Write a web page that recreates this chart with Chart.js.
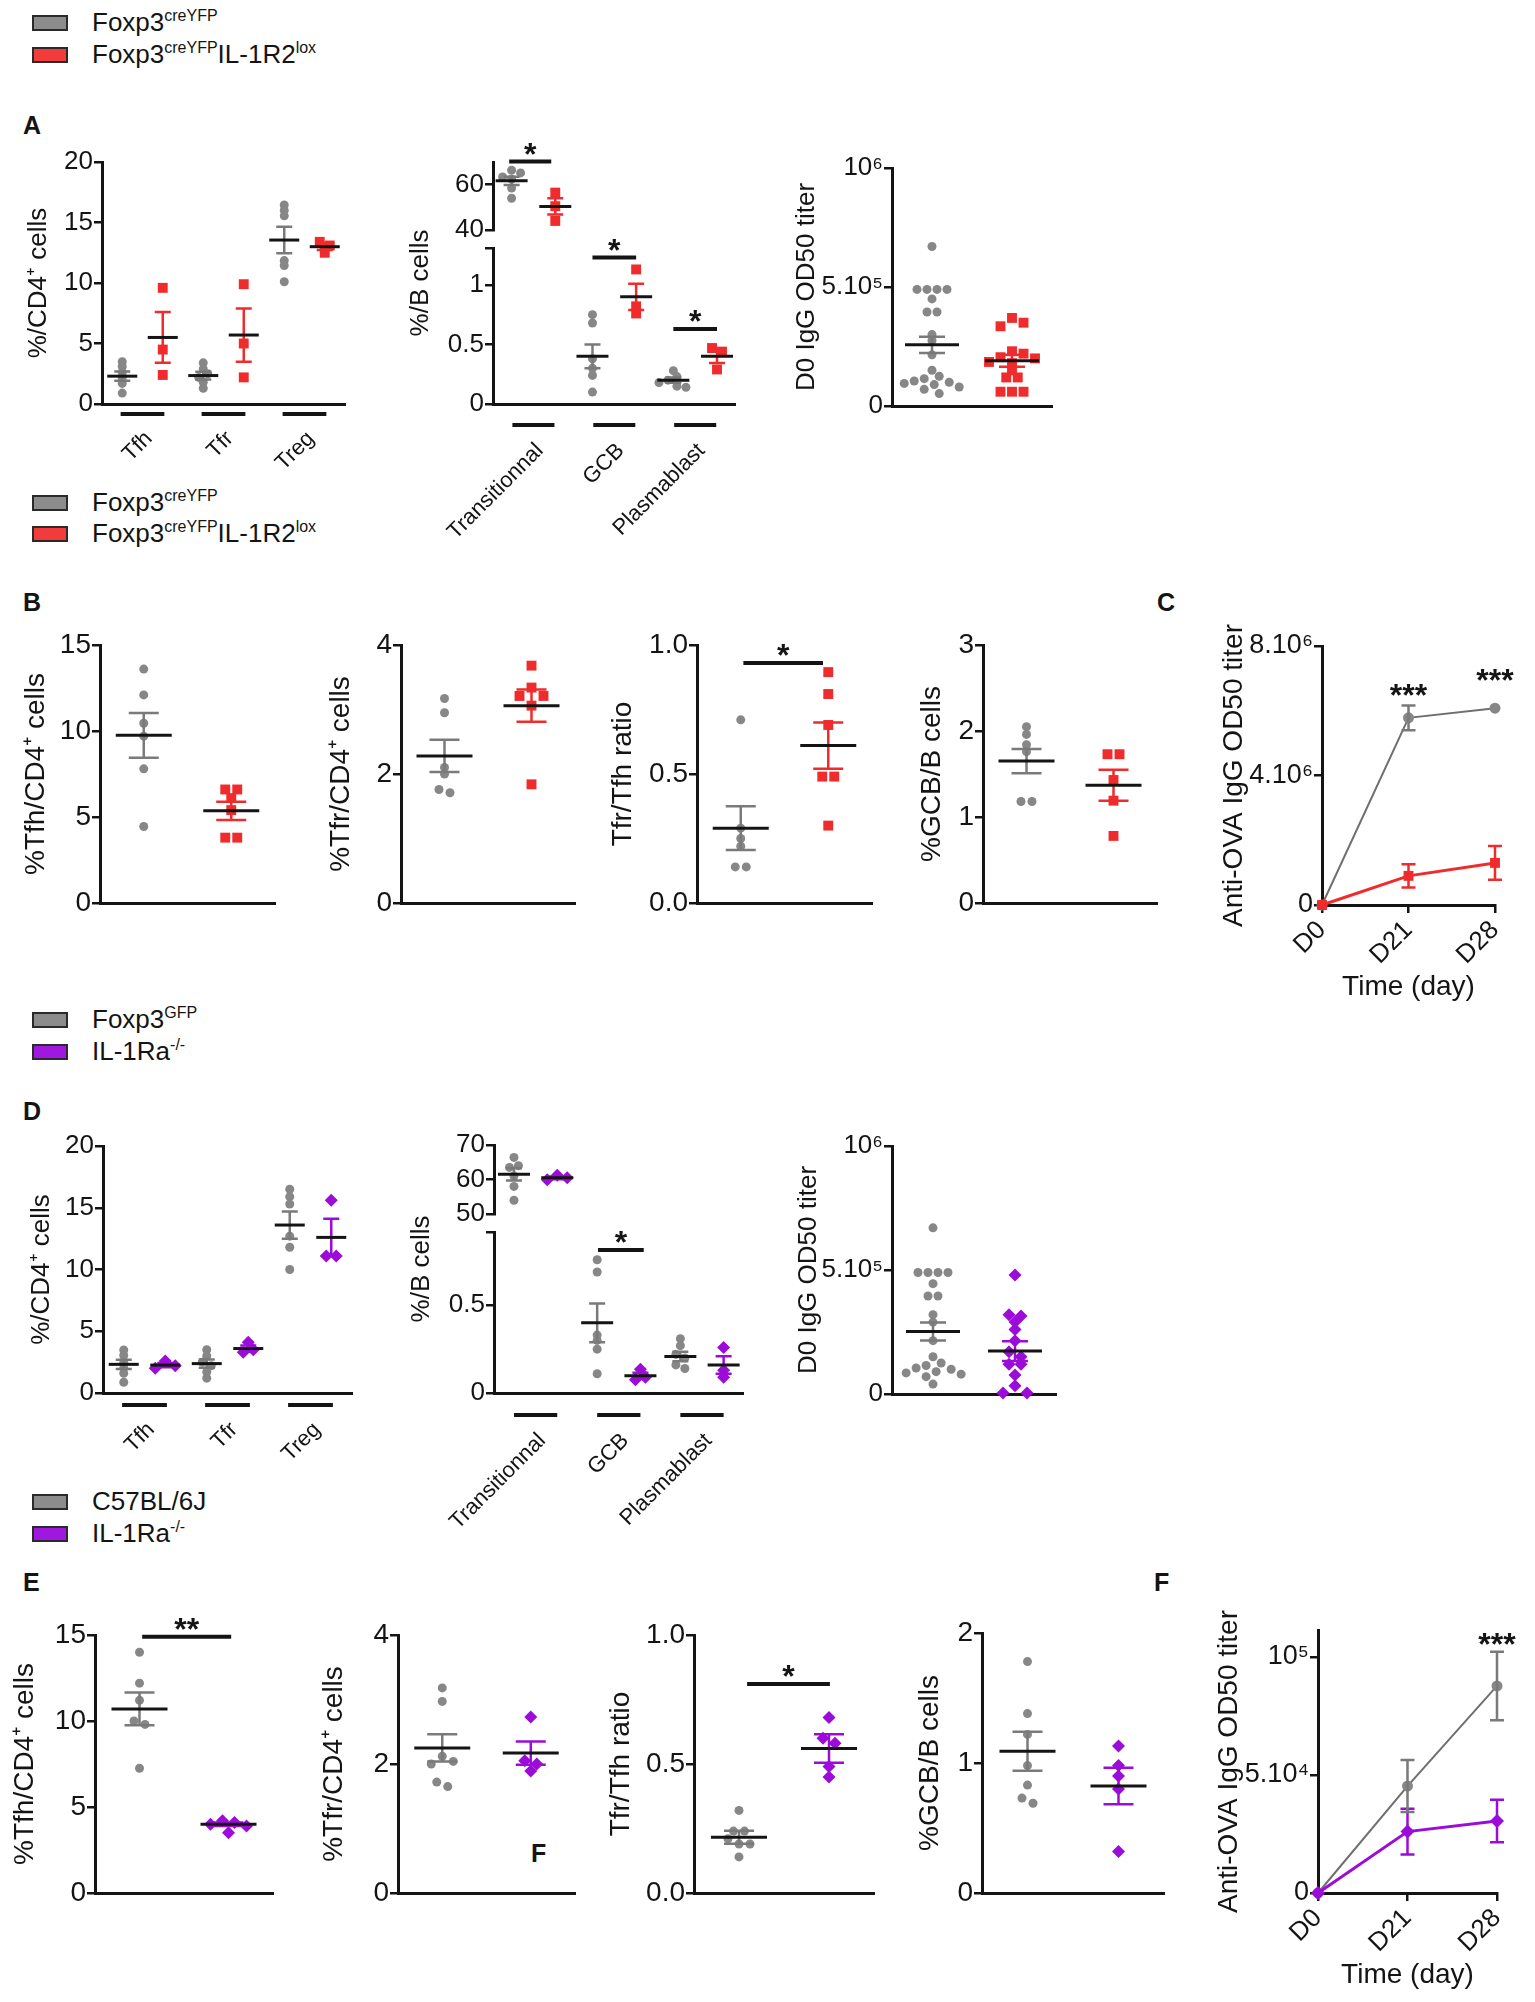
<!DOCTYPE html>
<html>
<head>
<meta charset="utf-8">
<script src="https://cdn.jsdelivr.net/npm/chart.js@4.4.1/dist/chart.umd.min.js"></script>
<style>
body { margin: 0; background: #fff; }
#fig { position: relative; width: 1535px; height: 2002px; font-family: 'Liberation Sans', Arial, Helvetica, sans-serif; color: #141414; overflow: hidden; }
#fig canvas { position: absolute; }
.sw { position: absolute; width: 32px; height: 12px; border: 2px solid #2a2a2a; }
.lt { position: absolute; font-size: 26px; line-height: 30px; white-space: nowrap; }
.lt sup { font-size: 16px; vertical-align: 10px; line-height: 0; }
.pl { position: absolute; font-weight: bold; font-size: 25px; line-height: 28px; }
</style>
</head>
<body>
<div id="fig"></div>
<script>
const FONT = "'Liberation Sans', Arial, Helvetica, sans-serif";
const INK = '#141414';
const GRAY = '#878787';
const GRAY_BAR = '#7a7a7a';
const RED = '#ef2b2b';
const PURPLE = '#9c0cd8';

// ---------- data ----------
// A
const catsA1 = ['Tfh', 'Tfr', 'Treg'];
const a1Gray = [[3.5, 3.1, 2.6, 2.2, 1.7, 0.9], [3.4, 2.9, 2.5, 2.2, 1.8, 1.3], [16.45, 16.0, 15.55, 11.85, 11.45, 10.1]];
const a1GrayMean = [2.3, 2.35, 13.55];
const a1GraySem = [0.38, 0.32, 1.1];
const a1Red = [[9.6, 4.5, 2.4], [9.9, 5.0, 2.2], [13.4, 13.1, 12.5]];
const a1RedMean = [5.5, 5.7, 13.0];
const a1RedSem = [2.1, 2.2, 0.28];

const catsA2 = ['Transitionnal', 'GCB', 'Plasmablast'];
const a2Gray = [[66.4, 65.2, 63.4, 62.5, 58.5, 54.0], [0.75, 0.68, 0.38, 0.30, 0.24, 0.10], [0.28, 0.23, 0.20, 0.18, 0.15, 0.14]];
const a2GrayMean = [61.7, 0.40, 0.20];
const a2GraySem = [1.8, 0.10, 0.022];
const a2Red = [[56.5, 50.5, 44.0], [1.13, 0.82, 0.76], [0.47, 0.44, 0.29]];
const a2RedMean = [50.4, 0.90, 0.40];
const a2RedSem = [3.6, 0.11, 0.055];
const a2SigY = [70.2, 1.23, 0.63];

const a3Gray = [6.7e5, 4.9e5, 4.9e5, 4.9e5, 4.9e5, 4.5e5, 3.95e5, 3.95e5, 3.0e5, 2.75e5, 2.15e5, 1.5e5, 1.25e5, 1.15e5, 1.05e5, 1.0e5, 0.95e5, 0.9e5, 0.8e5, 0.7e5, 0.52e5];
const a3GrayStat = [2.57e5, 0.34e5];
const a3Red = [3.7e5, 3.5e5, 3.35e5, 2.3e5, 2.2e5, 2.05e5, 2.0e5, 1.85e5, 1.8e5, 1.5e5, 1.2e5, 1.2e5, 0.6e5, 0.6e5, 0.6e5];
const a3RedStat = [1.9e5, 0.25e5];

// B
const b1Gray = [13.6, 12.1, 10.45, 9.7, 7.8, 4.45];
const b1GrayStat = [9.75, 1.3];
const b1Red = [6.6, 6.6, 6.1, 5.4, 3.8, 3.8];
const b1RedStat = [5.36, 0.53];
const b2Gray = [3.17, 2.95, 2.1, 2.0, 1.76, 1.71];
const b2GrayStat = [2.28, 0.25];
const b2Red = [3.68, 3.34, 3.21, 3.21, 3.06, 1.84];
const b2RedStat = [3.06, 0.25];
const b3Gray = [0.71, 0.29, 0.25, 0.22, 0.14, 0.14];
const b3GrayStat = [0.29, 0.085];
const b3Red = [0.895, 0.81, 0.69, 0.49, 0.49, 0.30];
const b3RedStat = [0.61, 0.09];
const b4Gray = [2.05, 1.96, 1.84, 1.76, 1.18, 1.18];
const b4GrayStat = [1.65, 0.14];
const b4Red = [1.73, 1.73, 1.43, 1.19, 0.78];
const b4RedStat = [1.37, 0.18];

// C
const days = ['D0', 'D21', 'D28'];
const cGray = [0, 5.78e6, 6.08e6];
const cGraySem = [0, 0.38e6, 0];
const cRed = [0, 0.9e6, 1.3e6];
const cRedSem = [0, 0.36e6, 0.52e6];

// D
const d1Gray = [[3.48, 3.04, 2.46, 2.03, 1.59, 0.87], [3.5, 3.0, 2.5, 2.2, 1.7, 1.2], [16.5, 15.9, 15.3, 12.7, 11.8, 10.0]];
const d1GrayMean = [2.32, 2.38, 13.6];
const d1GraySem = [0.37, 0.33, 1.1];
const d1Purple = [[2.6, 2.2, 2.0], [4.1, 3.5, 3.3], [15.6, 11.1, 11.1]];
const d1PurpleMean = [2.26, 3.6, 12.6];
const d1PurpleSem = [0.17, 0.25, 1.5];

const d2Gray = [[66.4, 64.0, 63.5, 61.0, 58.0, 54.0], [0.76, 0.69, 0.33, 0.30, 0.25, 0.11], [0.31, 0.27, 0.22, 0.20, 0.16, 0.14]];
const d2GrayMean = [61.5, 0.40, 0.208];
const d2GraySem = [1.8, 0.11, 0.027];
const d2Purple = [[61.2, 60.5, 59.9], [0.135, 0.09, 0.075], [0.26, 0.13, 0.09]];
const d2PurpleMean = [60.5, 0.098, 0.16];
const d2PurpleSem = [0.4, 0.018, 0.05];
const d2SigY = 0.816;

const d3Gray = [6.7e5, 4.9e5, 4.9e5, 4.9e5, 4.9e5, 4.45e5, 3.95e5, 3.95e5, 3.2e5, 2.9e5, 2.15e5, 1.5e5, 1.25e5, 1.15e5, 1.05e5, 1.0e5, 0.9e5, 0.85e5, 0.8e5, 0.7e5, 0.4e5];
const d3GrayStat = [2.52e5, 0.36e5];
const d3Purple = [4.8e5, 3.2e5, 3.15e5, 2.9e5, 2.6e5, 2.15e5, 1.7e5, 1.5e5, 1.2e5, 1.2e5, 0.77e5, 0.33e5, 0.04e5, 0.04e5];
const d3PurpleStat = [1.73e5, 0.4e5];

// E
const e1Gray = [14.0, 12.2, 11.2, 10.0, 9.8, 7.25];
const e1GrayStat = [10.7, 0.95];
const e1Purple = [4.2, 4.1, 4.0, 3.9, 3.5];
const e1PurpleStat = [4.0, 0.1];
const e2Gray = [3.18, 2.97, 2.12, 2.04, 2.0, 1.72, 1.65];
const e2GrayStat = [2.25, 0.21];
const e2Purple = [2.73, 2.05, 2.0, 1.89];
const e2PurpleStat = [2.17, 0.18];
const e3Gray = [0.32, 0.24, 0.24, 0.21, 0.19, 0.19, 0.14];
const e3GrayStat = [0.216, 0.025];
const e3Purple = [0.68, 0.6, 0.58, 0.49, 0.45];
const e3PurpleStat = [0.56, 0.055];
const e4Gray = [1.78, 1.38, 1.22, 0.98, 0.83, 0.73, 0.69];
const e4GrayStat = [1.09, 0.15];
const e4Purple = [1.13, 0.98, 0.9, 0.8, 0.32];
const e4PurpleStat = [0.823, 0.14];

// F
const fGray = [0, 4.53e4, 8.77e4];
const fGraySem = [0, 1.1e4, 1.45e4];
const fPurple = [0, 2.6e4, 3.05e4];
const fPurpleSem = [0, 0.97e4, 0.9e4];

// ---------- helpers ----------
const fig = document.getElementById('fig');

function legendRow(cy, color, html) {
  const s = document.createElement('div');
  s.className = 'sw';
  s.style.left = '32px'; s.style.top = (cy - 8) + 'px'; s.style.background = color;
  fig.appendChild(s);
  const t = document.createElement('div');
  t.className = 'lt';
  t.style.left = '92px'; t.style.top = (cy - 16) + 'px';
  t.innerHTML = html;
  fig.appendChild(t);
}

function letter(txt, cx, cy) {
  const d = document.createElement('div');
  d.className = 'pl';
  d.style.left = (cx - 9) + 'px'; d.style.top = (cy - 14) + 'px';
  d.textContent = txt;
  fig.appendChild(d);
}

function canvasFor(g) {
  const c = document.createElement('canvas');
  const w = g.x1 - g.x0 + g.yw + g.pr, h = g.y1 - g.y0 + g.pt + g.xh + g.pb;
  c.width = w; c.height = h;
  c.style.width = w + 'px'; c.style.height = h + 'px';
  c.style.left = (g.x0 - g.yw) + 'px'; c.style.top = (g.y0 - g.pt) + 'px';
  fig.appendChild(c);
  return c;
}

// beeswarm layout, rows centred like a column scatter
function swarm(vals, cx, pxX, pxY, d) {
  const placed = [];
  const order = vals.map((v, i) => i).sort((a, b) => vals[b] - vals[a]);
  order.forEach(i => {
    const yp = vals[i] * pxY;
    for (let k = 0; k < 80; k++) {
      const off = (k % 2 ? 1 : -1) * Math.ceil(k / 2) * d / 2;
      if (placed.every(p => Math.hypot(p.x - off, p.y - yp) >= d * 0.95)) {
        placed.push({ x: off, y: yp, v: vals[i] });
        break;
      }
    }
  });
  placed.sort((a, b) => b.y - a.y);
  let row = [];
  const flush = () => {
    const m = row.reduce((s, p) => s + p.x, 0) / row.length;
    row.forEach(p => { p.x -= m; });
    row = [];
  };
  placed.forEach(p => {
    if (row.length && Math.abs(row[row.length - 1].y - p.y) > d * 0.5) flush();
    row.push(p);
  });
  if (row.length) flush();
  return placed.map(p => ({ x: cx + p.x / pxX, y: p.v }));
}

const STYLE = {
  gray: { shape: 'circle', r: 4.5, color: GRAY, bar: GRAY_BAR },
  red: { shape: 'rect', r: 7, color: RED, bar: RED },
  purple: { shape: 'rectRot', r: 6.5, color: PURPLE, bar: PURPLE }
};

function group(vals, mean, sem, x, kind, axis, pxX, pxY, d) {
  const st = STYLE[kind];
  return {
    ds: { data: swarm(vals, x, pxX, pxY, d), pointStyle: st.shape, pointRadius: st.r, backgroundColor: st.color,
          borderWidth: 0, yAxisID: axis, clip: false },
    stat: { x, mean, sem, color: st.bar, axis }
  };
}

function yAxis(min, max, vals, labels, yw, fs, title, tfs, extra) {
  return Object.assign({
    type: 'linear', position: 'left', min, max,
    afterBuildTicks: s => { s.ticks = vals.map(v => ({ value: v })); },
    afterFit: s => { s.width = yw; },
    ticks: { callback: (v, i) => labels[i], font: { family: FONT, size: fs }, color: INK, padding: 1, autoSkip: false },
    grid: { display: true, drawOnChartArea: false, drawTicks: true, tickLength: 8, color: INK, lineWidth: 2.5 },
    border: { display: true, color: INK, width: 3 },
    title: title ? { display: true, text: title, font: { family: FONT, size: tfs }, color: INK, padding: 0 } : { display: false }
  }, extra || {});
}

function xPlain(min, max, xh) {
  return {
    type: 'linear', position: 'bottom', min, max,
    afterFit: s => { s.height = xh; },
    ticks: { display: false }, grid: { display: false },
    border: { display: true, color: INK, width: 3 }
  };
}

function xCats(min, max, xh, cats, shift, pad) {
  return {
    type: 'linear', position: 'bottom', min, max,
    afterBuildTicks: s => { s.ticks = cats.map((c, i) => ({ value: i + shift })); },
    afterFit: s => { s.height = xh; },
    ticks: { callback: (v, i) => cats[i], font: { family: FONT, size: 22 }, color: INK,
             minRotation: 45, maxRotation: 45, autoSkip: false, padding: pad },
    grid: { display: false },
    border: { display: true, color: INK, width: 3 }
  };
}

function deco(o) {
  return {
    id: 'deco',
    afterDatasetsDraw(chart) {
      const ctx = chart.ctx, xs = chart.scales.x, a = chart.chartArea;
      ctx.save();
      ctx.lineCap = 'butt';
      (o.under || []).forEach(u => {
        ctx.strokeStyle = INK; ctx.lineWidth = 4;
        ctx.beginPath();
        ctx.moveTo(xs.getPixelForValue(u.x - u.h), a.bottom + u.dy);
        ctx.lineTo(xs.getPixelForValue(u.x + u.h), a.bottom + u.dy);
        ctx.stroke();
      });
      (o.stats || []).forEach(s => {
        const ys = chart.scales[s.axis];
        const px = xs.getPixelForValue(s.x);
        const pm = ys.getPixelForValue(s.mean);
        const ph = ys.getPixelForValue(s.mean + s.sem), pl = ys.getPixelForValue(s.mean - s.sem);
        ctx.strokeStyle = s.color; ctx.lineWidth = 2.5;
        ctx.beginPath();
        ctx.moveTo(px, ph); ctx.lineTo(px, pl);
        ctx.moveTo(px - o.cap, ph); ctx.lineTo(px + o.cap, ph);
        ctx.moveTo(px - o.cap, pl); ctx.lineTo(px + o.cap, pl);
        ctx.stroke();
        ctx.strokeStyle = INK; ctx.lineWidth = 3;
        ctx.beginPath();
        ctx.moveTo(px - o.half, pm); ctx.lineTo(px + o.half, pm);
        ctx.stroke();
      });
      (o.err || []).forEach(e => {
        const ys = chart.scales.y;
        ctx.strokeStyle = e.color; ctx.lineWidth = 2.5;
        e.ys.forEach((v, i) => {
          if (!e.sem[i]) return;
          const px = xs.getPixelForValue(i);
          const ph = ys.getPixelForValue(v + e.sem[i]), pl = ys.getPixelForValue(v - e.sem[i]);
          ctx.beginPath();
          ctx.moveTo(px, ph); ctx.lineTo(px, pl);
          ctx.moveTo(px - 7, ph); ctx.lineTo(px + 7, ph);
          ctx.moveTo(px - 7, pl); ctx.lineTo(px + 7, pl);
          ctx.stroke();
        });
      });
      ctx.fillStyle = INK;
      ctx.textAlign = 'center';
      ctx.textBaseline = 'alphabetic';
      ctx.font = 'bold 32px ' + FONT;
      (o.sig || []).forEach(g => {
        const ys = chart.scales[g.axis || 'y'];
        const p1 = xs.getPixelForValue(g.x1), p2 = xs.getPixelForValue(g.x2), py = ys.getPixelForValue(g.y);
        ctx.strokeStyle = INK; ctx.lineWidth = 4;
        ctx.beginPath(); ctx.moveTo(p1, py); ctx.lineTo(p2, py); ctx.stroke();
        ctx.fillText(g.text, (p1 + p2) / 2, py + 3);
      });
      (o.stars || []).forEach(s => {
        const ys = chart.scales.y;
        ctx.fillText(s.text, xs.getPixelForValue(s.x), ys.getPixelForValue(s.y) + 18);
      });
      if (o.ytitle) {
        ctx.font = o.ytitle.size + 'px ' + FONT;
        ctx.textBaseline = 'middle';
        ctx.translate(a.left - o.ytitle.off, (a.top + a.bottom) / 2);
        ctx.rotate(-Math.PI / 2);
        ctx.fillText(o.ytitle.text, 0, 0);
      }
      ctx.restore();
    }
  };
}

function panel(g, datasets, scales, d) {
  new Chart(canvasFor(g), {
    type: 'scatter',
    data: { datasets },
    options: {
      responsive: false, animation: false, events: [],
      layout: { padding: { top: g.pt, bottom: g.pb, left: 0, right: g.pr } },
      plugins: { legend: { display: false }, tooltip: { enabled: false } },
      scales
    },
    plugins: [deco(d)]
  });
}

// two-group column scatter (B, E, A3, D3)
function pairPanel(g, s) {
  const pxX = (g.x1 - g.x0) / 2, pxY = (g.y1 - g.y0) / (s.yr[1] - s.yr[0]);
  const gs = [
    group(s.gray, s.grayStat[0], s.grayStat[1], 0, 'gray', 'y', pxX, pxY, s.d),
    group(s.alt, s.altStat[0], s.altStat[1], 1, s.altKind, 'y', pxX, pxY, s.dAlt || s.d)
  ];
  panel(g, gs.map(o => o.ds), {
    x: xPlain(-0.5, 1.5, g.xh),
    y: yAxis(s.yr[0], s.yr[1], s.ticks, s.labels, g.yw, s.fs, s.title, s.tfs)
  }, { stats: gs.map(o => o.stat), half: s.half, cap: s.cap, sig: s.sig || [] });
}

// three categories, two groups each (A1, D1)
function catPanel(g, s) {
  const pxX = (g.x1 - g.x0) / 3, pxY = (g.y1 - g.y0) / (s.yr[1] - s.yr[0]);
  const gs = [];
  s.cats.forEach((c, i) => {
    gs.push(group(s.gray[i], s.grayMean[i], s.graySem[i], i - s.off, 'gray', 'y', pxX, pxY, 9));
    gs.push(group(s.alt[i], s.altMean[i], s.altSem[i], i + s.off, s.altKind, 'y', pxX, pxY, 10));
  });
  panel(g, gs.map(o => o.ds), {
    x: xCats(-0.5, 2.5, g.xh, s.cats, 0.08, s.pad),
    y: yAxis(s.yr[0], s.yr[1], s.ticks, s.labels, g.yw, 26, s.title, 26)
  }, { stats: gs.map(o => o.stat), half: 15, cap: 8,
       under: s.cats.map((c, i) => ({ x: i, h: 0.27, dy: s.udy })) });
}

// broken y axis (A2, D2)
function brokenPanel(g, s) {
  const pxX = (g.x1 - g.x0) / 3;
  const pxTop = s.top.h / (s.top.yr[1] - s.top.yr[0]);
  const pxBot = s.bot.h / (s.bot.yr[1] - s.bot.yr[0]);
  const gs = [];
  s.cats.forEach((c, i) => {
    const ax = i === 0 ? 'yTop' : 'yBot', px = i === 0 ? pxTop : pxBot;
    gs.push(group(s.gray[i], s.grayMean[i], s.graySem[i], i - s.off, 'gray', ax, pxX, px, 9));
    gs.push(group(s.alt[i], s.altMean[i], s.altSem[i], i + s.off, s.altKind, ax, pxX, px, 10));
  });
  panel(g, gs.map(o => o.ds), {
    x: xCats(-0.5, 2.5, g.xh, s.cats, 0.08, s.pad),
    yTop: yAxis(s.top.yr[0], s.top.yr[1], s.top.ticks, s.top.labels, g.yw, 26, null, 0,
                { stack: 'brk', stackWeight: s.top.h, weight: 2 }),
    yGap: { type: 'linear', position: 'left', min: 0, max: 1, stack: 'brk', stackWeight: s.gapH, weight: 1,
            afterFit: sc => { sc.width = g.yw; }, ticks: { display: false }, grid: { display: false },
            border: { display: false } },
    yBot: yAxis(s.bot.yr[0], s.bot.yr[1], s.bot.ticks, s.bot.labels, g.yw, 26, null, 0,
                { stack: 'brk', stackWeight: s.bot.h, weight: 0 })
  }, { stats: gs.map(o => o.stat), half: 16, cap: 8, sig: s.sig,
       under: s.cats.map((c, i) => ({ x: i, h: 0.26, dy: s.udy })),
       ytitle: { text: '%/B cells', off: s.toff, size: 26 } });
}

// time course (C, F)
function linePanel(g, s) {
  const pts = arr => arr.map((v, i) => ({ x: i, y: v }));
  const st = STYLE[s.altKind];
  panel(g, [
    { data: pts(s.alt), showLine: true, borderColor: st.color, borderWidth: 3, pointStyle: st.shape,
      pointRadius: 7, backgroundColor: st.color, pointBorderWidth: 0, clip: false },
    { data: pts(s.gray), showLine: true, borderColor: '#6f6f6f', borderWidth: 2, pointStyle: 'circle',
      pointRadius: 5.5, backgroundColor: GRAY, pointBorderWidth: 0, clip: false }
  ], {
    x: {
      type: 'linear', position: 'bottom', min: 0, max: 2,
      afterBuildTicks: sc => { sc.ticks = days.map((d, i) => ({ value: i })); },
      afterFit: sc => { sc.height = g.xh; },
      ticks: { callback: (v, i) => days[i], font: { family: FONT, size: 26 }, color: INK,
               minRotation: 45, maxRotation: 45, autoSkip: false, padding: 2 },
      grid: { display: true, drawOnChartArea: false, drawTicks: true, tickLength: 8, color: INK, lineWidth: 2.5 },
      border: { display: true, color: INK, width: 3 },
      title: { display: true, text: 'Time (day)', font: { family: FONT, size: 28 }, color: INK, padding: 0 }
    },
    y: yAxis(s.yr[0], s.yr[1], s.ticks, s.labels, g.yw, 27, 'Anti-OVA IgG OD50 titer', 28)
  }, { err: [{ ys: s.alt, sem: s.altSem, color: st.bar }, { ys: s.gray, sem: s.graySem, color: GRAY_BAR }],
       stars: s.stars });
}

// ---------- legends and panel letters ----------
legendRow(23, '#8c8c8c', 'Foxp3<sup>creYFP</sup>');
legendRow(55, '#f23c3c', 'Foxp3<sup>creYFP</sup>IL-1R2<sup>lox</sup>');
legendRow(503, '#8c8c8c', 'Foxp3<sup>creYFP</sup>');
legendRow(534, '#f23c3c', 'Foxp3<sup>creYFP</sup>IL-1R2<sup>lox</sup>');
legendRow(1020, '#8c8c8c', 'Foxp3<sup>GFP</sup>');
legendRow(1052, '#a018e0', 'IL-1Ra<sup>-/-</sup>');
legendRow(1502, '#8c8c8c', 'C57BL/6J');
legendRow(1534, '#a018e0', 'IL-1Ra<sup>-/-</sup>');
letter('A', 32, 125);
letter('B', 32, 602);
letter('C', 1166, 602);
letter('D', 32, 1111);
letter('E', 32, 1582);
letter('F', 1163, 1582);
letter('F', 540, 1853);

// ---------- panels ----------
const T_CD4 = '%/CD4\u207A cells';

catPanel({ x0: 102, x1: 345, y0: 162, y1: 404, yw: 79, xh: 80, pt: 30, pb: 4, pr: 12 }, {
  cats: catsA1, yr: [0, 20], ticks: [0, 5, 10, 15, 20], labels: ['0', '5', '10', '15', '20'], title: T_CD4,
  gray: a1Gray, grayMean: a1GrayMean, graySem: a1GraySem, alt: a1Red, altMean: a1RedMean, altSem: a1RedSem,
  altKind: 'red', off: 0.25, pad: 14, udy: 10
});

brokenPanel({ x0: 493, x1: 736, y0: 162, y1: 404, yw: 95, xh: 140, pt: 40, pb: 4, pr: 12 }, {
  cats: catsA2,
  top: { yr: [40, 70], ticks: [40, 60], labels: ['40', '60'], h: 68 },
  gapH: 18,
  bot: { yr: [0, 1.31], ticks: [0, 0.5, 1, 1.31], labels: ['0', '0.5', '1', ''], h: 156 },
  gray: a2Gray, grayMean: a2GrayMean, graySem: a2GraySem, alt: a2Red, altMean: a2RedMean, altSem: a2RedSem,
  altKind: 'red', off: 0.27, pad: 26, udy: 21, toff: 72,
  sig: [
    { x1: -0.3, x2: 0.22, y: a2SigY[0], axis: 'yTop', text: '*' },
    { x1: 0.73, x2: 1.27, y: a2SigY[1], axis: 'yBot', text: '*' },
    { x1: 1.73, x2: 2.27, y: a2SigY[2], axis: 'yBot', text: '*' }
  ]
});

pairPanel({ x0: 892, x1: 1052, y0: 168, y1: 406, yw: 101, xh: 0, pt: 30, pb: 20, pr: 12 }, {
  yr: [0, 1e6], ticks: [0, 5e5, 1e6], labels: ['0', '5.10\u2075', '10\u2076'], fs: 26,
  title: 'D0 IgG OD50 titer', tfs: 26, gray: a3Gray, grayStat: a3GrayStat, alt: a3Red, altStat: a3RedStat,
  altKind: 'red', d: 10, dAlt: 11.5, half: 27, cap: 13
});

const gB = (x0, x1, yw) => ({ x0, x1, y0: 645, y1: 903, yw, xh: 0, pt: 40, pb: 20, pr: 12 });
pairPanel(gB(100, 275, 81), {
  yr: [0, 15], ticks: [0, 5, 10, 15], labels: ['0', '5', '10', '15'], fs: 28, title: '%Tfh/CD4\u207A cells', tfs: 28,
  gray: b1Gray, grayStat: b1GrayStat, alt: b1Red, altStat: b1RedStat, altKind: 'red', d: 11, dAlt: 12, half: 28, cap: 15
});
pairPanel(gB(401, 575, 77), {
  yr: [0, 4], ticks: [0, 2, 4], labels: ['0', '2', '4'], fs: 28, title: '%Tfr/CD4\u207A cells', tfs: 28,
  gray: b2Gray, grayStat: b2GrayStat, alt: b2Red, altStat: b2RedStat, altKind: 'red', d: 11, dAlt: 12, half: 28, cap: 15
});
pairPanel(gB(697, 872, 91), {
  yr: [0, 1], ticks: [0, 0.5, 1], labels: ['0.0', '0.5', '1.0'], fs: 28, title: 'Tfr/Tfh ratio', tfs: 28,
  gray: b3Gray, grayStat: b3GrayStat, alt: b3Red, altStat: b3RedStat, altKind: 'red', d: 11, dAlt: 12, half: 28, cap: 15,
  sig: [{ x1: 0.03, x2: 0.94, y: 0.93, text: '*' }]
});
pairPanel(gB(983, 1157, 68), {
  yr: [0, 3], ticks: [0, 1, 2, 3], labels: ['0', '1', '2', '3'], fs: 28, title: '%GCB/B cells', tfs: 28,
  gray: b4Gray, grayStat: b4GrayStat, alt: b4Red, altStat: b4RedStat, altKind: 'red', d: 11, dAlt: 12, half: 28, cap: 15
});

linePanel({ x0: 1322, x1: 1495, y0: 646, y1: 905, yw: 105, xh: 99, pt: 40, pb: 4, pr: 34 }, {
  yr: [0, 8e6], ticks: [0, 4e6, 8e6], labels: ['0', '4.10\u2076', '8.10\u2076'],
  gray: cGray, graySem: cGraySem, alt: cRed, altSem: cRedSem, altKind: 'red',
  stars: [{ x: 1, y: 6.7e6, text: '***' }, { x: 2, y: 7.16e6, text: '***' }]
});

catPanel({ x0: 103, x1: 352, y0: 1146, y1: 1393, yw: 77, xh: 80, pt: 30, pb: 4, pr: 12 }, {
  cats: catsA1, yr: [0, 20], ticks: [0, 5, 10, 15, 20], labels: ['0', '5', '10', '15', '20'], title: T_CD4,
  gray: d1Gray, grayMean: d1GrayMean, graySem: d1GraySem, alt: d1Purple, altMean: d1PurpleMean, altSem: d1PurpleSem,
  altKind: 'purple', off: 0.25, pad: 16, udy: 12
});

brokenPanel({ x0: 494, x1: 744, y0: 1145, y1: 1393, yw: 95, xh: 140, pt: 30, pb: 4, pr: 12 }, {
  cats: catsA2,
  top: { yr: [50, 70], ticks: [50, 60, 70], labels: ['50', '60', '70'], h: 69 },
  gapH: 18,
  bot: { yr: [0, 0.918], ticks: [0, 0.5, 0.918], labels: ['0', '0.5', ''], h: 161 },
  gray: d2Gray, grayMean: d2GrayMean, graySem: d2GraySem, alt: d2Purple, altMean: d2PurpleMean, altSem: d2PurpleSem,
  altKind: 'purple', off: 0.26, pad: 27, udy: 22, toff: 72,
  sig: [{ x1: 0.75, x2: 1.3, y: d2SigY, axis: 'yBot', text: '*' }]
});

pairPanel({ x0: 892, x1: 1056, y0: 1146, y1: 1394, yw: 99, xh: 0, pt: 30, pb: 20, pr: 12 }, {
  yr: [0, 1e6], ticks: [0, 5e5, 1e6], labels: ['0', '5.10\u2075', '10\u2076'], fs: 26,
  title: 'D0 IgG OD50 titer', tfs: 26, gray: d3Gray, grayStat: d3GrayStat, alt: d3Purple, altStat: d3PurpleStat,
  altKind: 'purple', d: 10, dAlt: 12, half: 27, cap: 13
});

const gE = (x0, x1, yw, y0) => ({ x0, x1, y0: y0 || 1635, y1: 1893, yw, xh: 0, pt: 40, pb: 20, pr: 12 });
pairPanel(gE(95, 273, 87), {
  yr: [0, 15], ticks: [0, 5, 10, 15], labels: ['0', '5', '10', '15'], fs: 28, title: '%Tfh/CD4\u207A cells', tfs: 28,
  gray: e1Gray, grayStat: e1GrayStat, alt: e1Purple, altStat: e1PurpleStat, altKind: 'purple', d: 11, dAlt: 12, half: 28, cap: 15,
  sig: [{ x1: 0.03, x2: 1.03, y: 14.9, text: '**' }]
});
pairPanel(gE(398, 575, 81), {
  yr: [0, 4], ticks: [0, 2, 4], labels: ['0', '2', '4'], fs: 28, title: '%Tfr/CD4\u207A cells', tfs: 28,
  gray: e2Gray, grayStat: e2GrayStat, alt: e2Purple, altStat: e2PurpleStat, altKind: 'purple', d: 11, dAlt: 12, half: 28, cap: 15
});
pairPanel(gE(694, 874, 90), {
  yr: [0, 1], ticks: [0, 0.5, 1], labels: ['0.0', '0.5', '1.0'], fs: 28, title: 'Tfr/Tfh ratio', tfs: 28,
  gray: e3Gray, grayStat: e3GrayStat, alt: e3Purple, altStat: e3PurpleStat, altKind: 'purple', d: 11, dAlt: 12, half: 28, cap: 15,
  sig: [{ x1: 0.09, x2: 1.01, y: 0.81, text: '*' }]
});
pairPanel(gE(982, 1164, 69, 1633), {
  yr: [0, 2], ticks: [0, 1, 2], labels: ['0', '1', '2'], fs: 28, title: '%GCB/B cells', tfs: 28,
  gray: e4Gray, grayStat: e4GrayStat, alt: e4Purple, altStat: e4PurpleStat, altKind: 'purple', d: 11, dAlt: 12, half: 28, cap: 15
});

linePanel({ x0: 1318, x1: 1497, y0: 1630, y1: 1893, yw: 106, xh: 99, pt: 30, pb: 4, pr: 32 }, {
  yr: [0, 1.114e5], ticks: [0, 5e4, 1e5], labels: ['0', '5.10\u2074', '10\u2075'],
  gray: fGray, graySem: fGraySem, alt: fPurple, altSem: fPurpleSem, altKind: 'purple',
  stars: [{ x: 2, y: 1.085e5, text: '***' }]
});
</script>
</body>
</html>
